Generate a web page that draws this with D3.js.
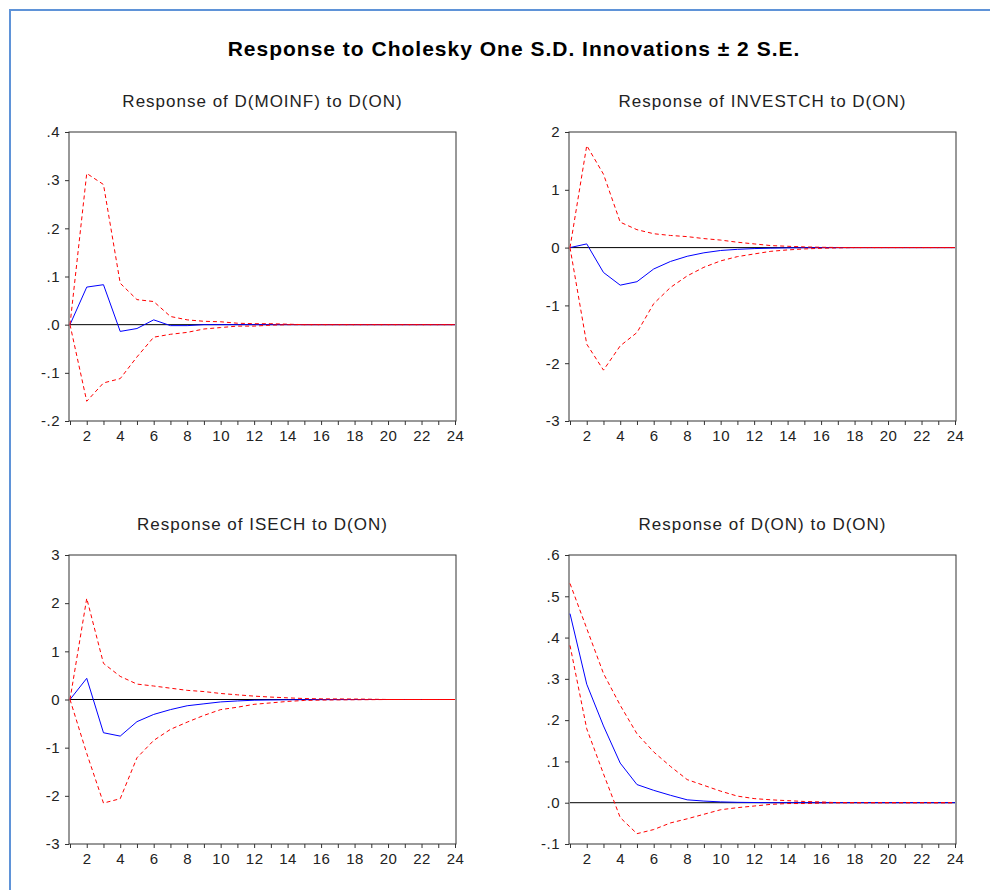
<!DOCTYPE html>
<html>
<head>
<meta charset="utf-8">
<script src="https://cdn.jsdelivr.net/npm/d3@7"></script>
<style>
  body { margin: 0; background: #fff; }
  svg { display: block; font-family: Arial, "Liberation Sans", sans-serif; }
  .frame { fill: none; stroke: #333; stroke-width: 1; }
  .zero { stroke: #000; stroke-width: 1; }
  .resp { fill: none; stroke: #0000ff; stroke-width: 1; }
  .band { fill: none; stroke: #ff0000; stroke-width: 1; stroke-dasharray: 4,3; }
  .axis path { display: none; }
  .axis line { stroke: #333; }
  .axis text { fill: #222; font-size: 15px; letter-spacing: 0.5px; }
</style>
</head>
<body>
<div id="chart"></div>
<script>
// periods 1..24
var periods = d3.range(1, 25);
var xTickLabels = ["2","4","6","8","10","12","14","16","18","20","22","24"];

var mainTitle = "Response to Cholesky One S.D. Innovations \u00b1 2 S.E.";
var panelTitles = [
    "Response of D(MOINF) to D(ON)",
    "Response of INVESTCH to D(ON)",
    "Response of ISECH to D(ON)",
    "Response of D(ON) to D(ON)"
];

// Response of D(MOINF) to D(ON)
var moinfResp  = [0, 0.078, 0.083, -0.014, -0.008, 0.010, -0.002, -0.002, 0, 0, 0, 0, 0, 0, 0, 0, 0, 0, 0, 0, 0, 0, 0, 0];
var moinfUpper = [0, 0.314, 0.291, 0.086, 0.052, 0.048, 0.017, 0.010, 0.007, 0.006, 0.003, 0.002, 0.002, 0.001, 0, 0, 0, 0, 0, 0, 0, 0, 0, 0];
var moinfLower = [0, -0.159, -0.121, -0.112, -0.067, -0.026, -0.020, -0.016, -0.009, -0.006, -0.003, -0.003, -0.001, 0, 0, 0, 0, 0, 0, 0, 0, 0, 0, 0];
var moinfTicks = [0.4, 0.3, 0.2, 0.1, 0, -0.1, -0.2];

// Response of INVESTCH to D(ON)
var investResp  = [0, 0.064, -0.43, -0.65, -0.59, -0.37, -0.24, -0.15, -0.09, -0.05, -0.03, -0.017, -0.01, -0.005, -0.003, -0.002, -0.001, 0, 0, 0, 0, 0, 0, 0];
var investUpper = [0, 1.765, 1.27, 0.44, 0.31, 0.24, 0.21, 0.19, 0.156, 0.13, 0.093, 0.064, 0.035, 0.023, 0.012, 0.006, 0.002, 0, 0, 0, 0, 0, 0, 0];
var investLower = [0, -1.67, -2.12, -1.70, -1.47, -0.97, -0.69, -0.49, -0.34, -0.23, -0.156, -0.11, -0.064, -0.04, -0.023, -0.012, -0.005, 0, 0, 0, 0, 0, 0, 0];
var investTicks = [2, 1, 0, -1, -2, -3];

// Response of ISECH to D(ON)
var isechResp  = [0, 0.44, -0.69, -0.76, -0.46, -0.31, -0.21, -0.13, -0.09, -0.05, -0.03, -0.015, -0.01, -0.006, -0.004, -0.003, -0.002, -0.001, 0, 0, 0, 0, 0, 0];
var isechUpper = [0, 2.10, 0.75, 0.48, 0.32, 0.28, 0.235, 0.19, 0.165, 0.125, 0.097, 0.07, 0.05, 0.035, 0.02, 0.014, 0.012, 0.01, 0.006, 0, 0, 0, 0, 0];
var isechLower = [0, -1.12, -2.15, -2.06, -1.21, -0.85, -0.62, -0.47, -0.33, -0.21, -0.16, -0.10, -0.07, -0.04, -0.02, -0.012, -0.008, -0.005, -0.003, 0, 0, 0, 0, 0];
var isechTicks = [3, 2, 1, 0, -1, -2, -3];

// Response of D(ON) to D(ON)
var onResp  = [0.458, 0.287, 0.186, 0.096, 0.044, 0.030, 0.018, 0.007, 0.004, 0.002, 0.001, 0.0005, 0, 0, 0, 0, 0, 0, 0, 0, 0, 0, 0, 0];
var onUpper = [0.531, 0.422, 0.313, 0.236, 0.167, 0.123, 0.088, 0.056, 0.042, 0.028, 0.016, 0.010, 0.007, 0.005, 0.003, 0.002, 0, 0, 0, 0, 0, 0, 0, 0];
var onLower = [0.381, 0.179, 0.070, -0.036, -0.075, -0.065, -0.049, -0.039, -0.028, -0.017, -0.012, -0.008, -0.004, -0.002, -0.002, -0.001, 0, 0, 0, 0, 0, 0, 0, 0];
var onTicks = [0.6, 0.5, 0.4, 0.3, 0.2, 0.1, 0, -0.1];

// plain hyphen for minus, as in the original output
var loc = d3.formatLocale({decimal: ".", thousands: ",", grouping: [3], currency: ["", ""], minus: "-"});

// strips leading zero like ".3", "-.1", ".0"
function decFormat(v) {
    var s = loc.format(".1f")(v);
    return s.replace(/^(-?)0\./, "$1.");
}
function intFormat(v) { return loc.format("d")(v); }

var panels = [
    {title: panelTitles[0], resp: moinfResp,  upper: moinfUpper,  lower: moinfLower,  ticks: moinfTicks,  fmt: decFormat, left: 69,  top: 132},
    {title: panelTitles[1], resp: investResp, upper: investUpper, lower: investLower, ticks: investTicks, fmt: intFormat, left: 569, top: 132},
    {title: panelTitles[2], resp: isechResp,  upper: isechUpper,  lower: isechLower,  ticks: isechTicks,  fmt: intFormat, left: 69,  top: 555},
    {title: panelTitles[3], resp: onResp,     upper: onUpper,     lower: onLower,     ticks: onTicks,     fmt: decFormat, left: 569, top: 555}
];

var W = 990, H = 890;
var pw = 387, ph = 289;

var svg = d3.select("#chart")
    .append("svg")
    .attr("width", W)
    .attr("height", H);

svg.append("rect").attr("width", W).attr("height", H).attr("fill", "#fff");

// window border (top + left)
svg.append("path")
    .attr("d", "M10," + H + "V10H" + W)
    .attr("fill", "none")
    .attr("stroke", "#5f93d8")
    .attr("stroke-width", 2);

svg.append("text")
    .attr("x", 514)
    .attr("y", 56)
    .attr("text-anchor", "middle")
    .style("font-size", "21px")
    .style("font-weight", "bold")
    .style("letter-spacing", "1px")
    .attr("fill", "#000")
    .text(mainTitle);

panels.forEach(function(p) {
    var g = svg.append("g")
        .attr("transform", "translate(" + p.left + "," + p.top + ")");

    var xScale = d3.scaleLinear().domain([1, 24]).range([1, pw - 1]);
    var yScale = d3.scaleLinear()
        .domain([d3.min(p.ticks), d3.max(p.ticks)])
        .range([ph, 0]);

    g.append("text")
        .attr("x", pw / 2)
        .attr("y", -25)
        .attr("text-anchor", "middle")
        .style("font-size", "17px")
        .style("letter-spacing", "1px")
        .attr("fill", "#222")
        .text(p.title);

    var yAxis = d3.axisLeft(yScale)
        .tickValues(p.ticks)
        .tickSize(4)
        .tickPadding(5)
        .tickFormat(p.fmt);

    var xAxis = d3.axisBottom(xScale)
        .tickValues(periods)
        .tickSize(4)
        .tickPadding(5)
        .tickFormat(function(d) { return xTickLabels.indexOf(String(d)) >= 0 ? d : ""; });

    g.append("g").attr("class", "y axis").call(yAxis);
    g.append("g").attr("class", "x axis")
        .attr("transform", "translate(0," + ph + ")")
        .call(xAxis);

    g.append("rect")
        .attr("class", "frame")
        .attr("x", 0).attr("y", 0)
        .attr("width", pw).attr("height", ph);

    g.append("line")
        .attr("class", "zero")
        .attr("x1", xScale(1)).attr("x2", xScale(24))
        .attr("y1", yScale(0)).attr("y2", yScale(0));

    var line = d3.line()
        .x(function(d, i) { return xScale(periods[i]); })
        .y(function(d) { return yScale(d); });

    g.append("path").datum(p.resp).attr("class", "resp").attr("d", line);
    g.append("path").datum(p.upper).attr("class", "band").attr("d", line);
    g.append("path").datum(p.lower).attr("class", "band").attr("d", line);
});
</script>
</body>
</html>
